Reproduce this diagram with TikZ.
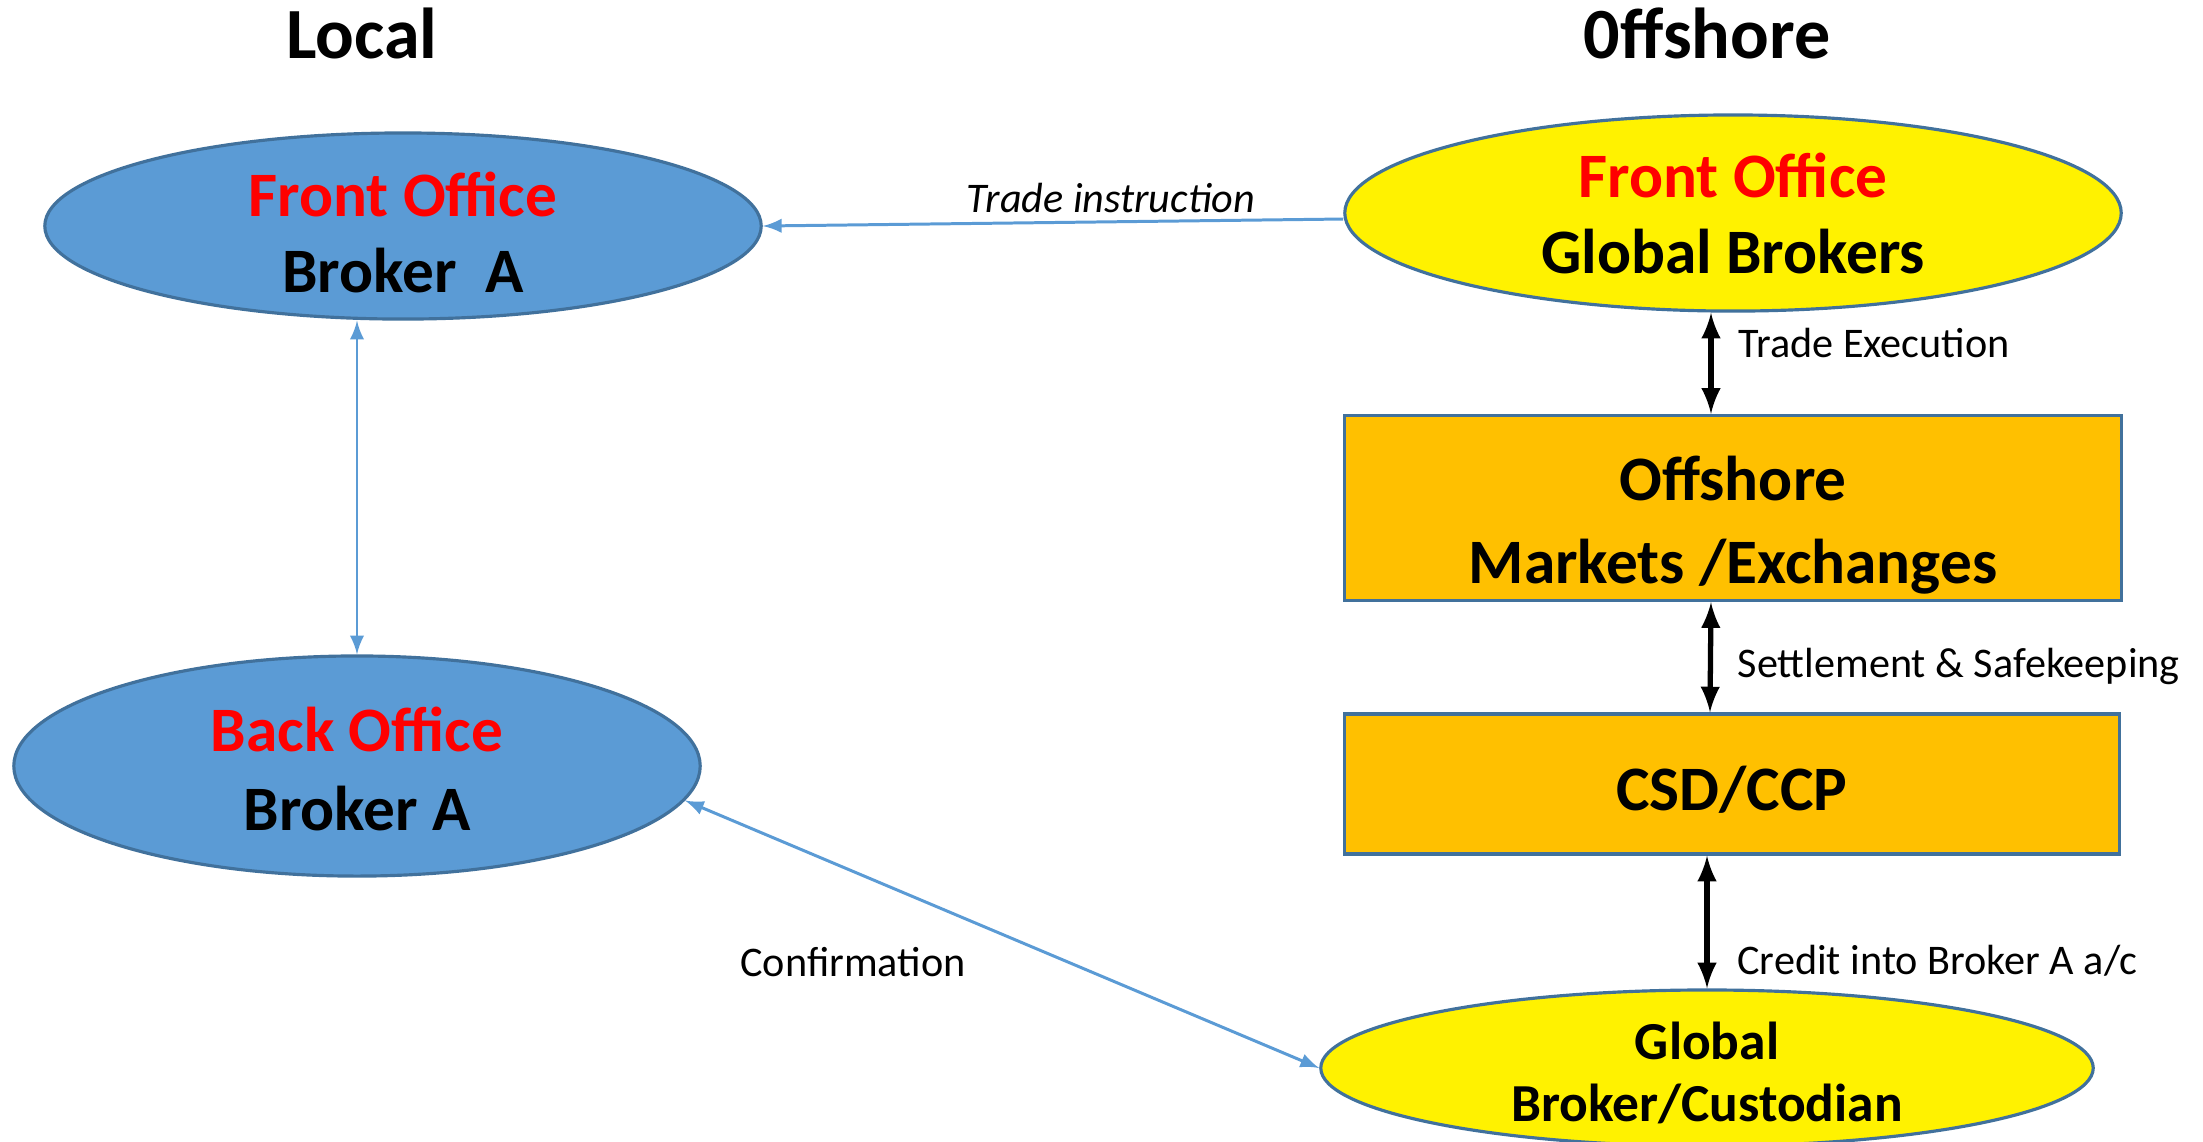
\documentclass[tikz,border=0pt]{standalone}
\usepackage{fontspec}
\setmainfont{Carlito}
\usetikzlibrary{arrows,shapes}
\definecolor{bluefill}{HTML}{5B9BD5}
\definecolor{blueedge}{HTML}{41719C}
\definecolor{gold}{HTML}{FFC000}

\begin{document}
\begin{tikzpicture}[x=0.01cm,y=-0.01cm]
      \tikzstyle{oval}=[ellipse,draw=blueedge,line width=0.9pt,inner sep=0pt]
      \tikzstyle{local}=[oval,fill=bluefill]
      \tikzstyle{remote}=[oval,fill=yellow]
      \tikzstyle{box}=[rectangle,draw=blueedge,line width=0.9pt,fill=gold]
      \tikzstyle{txt}=[align=center,font=\bfseries\fontsize{18}{21.6}\selectfont]
      \tikzstyle{head}=[font=\bfseries\fontsize{20.5}{24}\selectfont]
      \tikzstyle{note}=[font=\fontsize{12}{14}\selectfont]
      \tikzstyle{link}=[draw=bluefill,line width=0.85pt]
      \tikzstyle{flow}=[draw=black,line width=1.5pt,latex-latex]

      \useasboundingbox (0,0) rectangle (2203,1141);

      % column headings
      \node[head](local) at (362,33){Local};
      \node[head](offshore) at (1707,33){0ffshore};

      % local side
      \node[local,minimum width=7.16cm,minimum height=1.86cm,
        label={[txt,yshift=-0.06cm]center:{\color{red}Front Office}\\Broker\ \ A}](fb) at (403,226){};
      \node[local,minimum width=6.86cm,minimum height=2.2cm,
        label={[txt,font=\bfseries\fontsize{18}{22.5}\selectfont,yshift=-0.03cm]center:{\color{red}Back Office}\\Broker A}](bo) at (357,766){};

      % offshore side
      \node[remote,minimum width=7.76cm,minimum height=1.96cm,
        label={[txt]center:{\color{red}Front Office}\\Global Brokers}](gb) at (1733,213){};
      \node[box,minimum width=7.77cm,minimum height=1.85cm,
        label={[txt,font=\bfseries\fontsize{18}{23.6}\selectfont,yshift=-0.17cm]center:Offshore\\Markets /Exchanges}](mkt) at (1733,508){};
      \node[box,minimum width=7.74cm,minimum height=1.4cm,
        label={[txt,yshift=-0.06cm]center:CSD/CCP}](csd) at (1732,784){};
      \node[remote,minimum width=7.72cm,minimum height=1.56cm,
        label={[txt,font=\bfseries\fontsize{15.2}{17.6}\selectfont,yshift=-0.05cm]center:Global\\Broker/Custodian}](cust) at (1707,1068){};

      % connectors
      \draw[link,-latex] ([yshift=-0.06cm]gb.west) -- node[above,pos=0.4,yshift=-0.04cm,font=\itshape\fontsize{12}{14}\selectfont]{Trade instruction} (fb.east);
      \draw[link,latex-latex] (fb.south -| bo.north) -- (bo.north);
      \draw[link,latex-latex] (bo.-6) -- (cust.west);
      \node[note](confirm) at (853,962){Confirmation};

      \draw[flow] ([xshift=-0.22cm]gb.south) -- node[note,right,xshift=0.13cm,pos=0.3]{Trade Execution} ([xshift=-0.22cm]mkt.north);
      \draw[flow] ([xshift=-0.22cm]mkt.south) -- node[note,right,xshift=0.13cm,pos=0.58]{Settlement \& Safekeeping} ([xshift=-0.22cm]csd.north);
      \draw[flow] (cust.north |- csd.south) -- node[note,right,xshift=0.16cm,pos=0.79]{Credit into Broker A a/c} (cust.north);
\end{tikzpicture}
\end{document}
